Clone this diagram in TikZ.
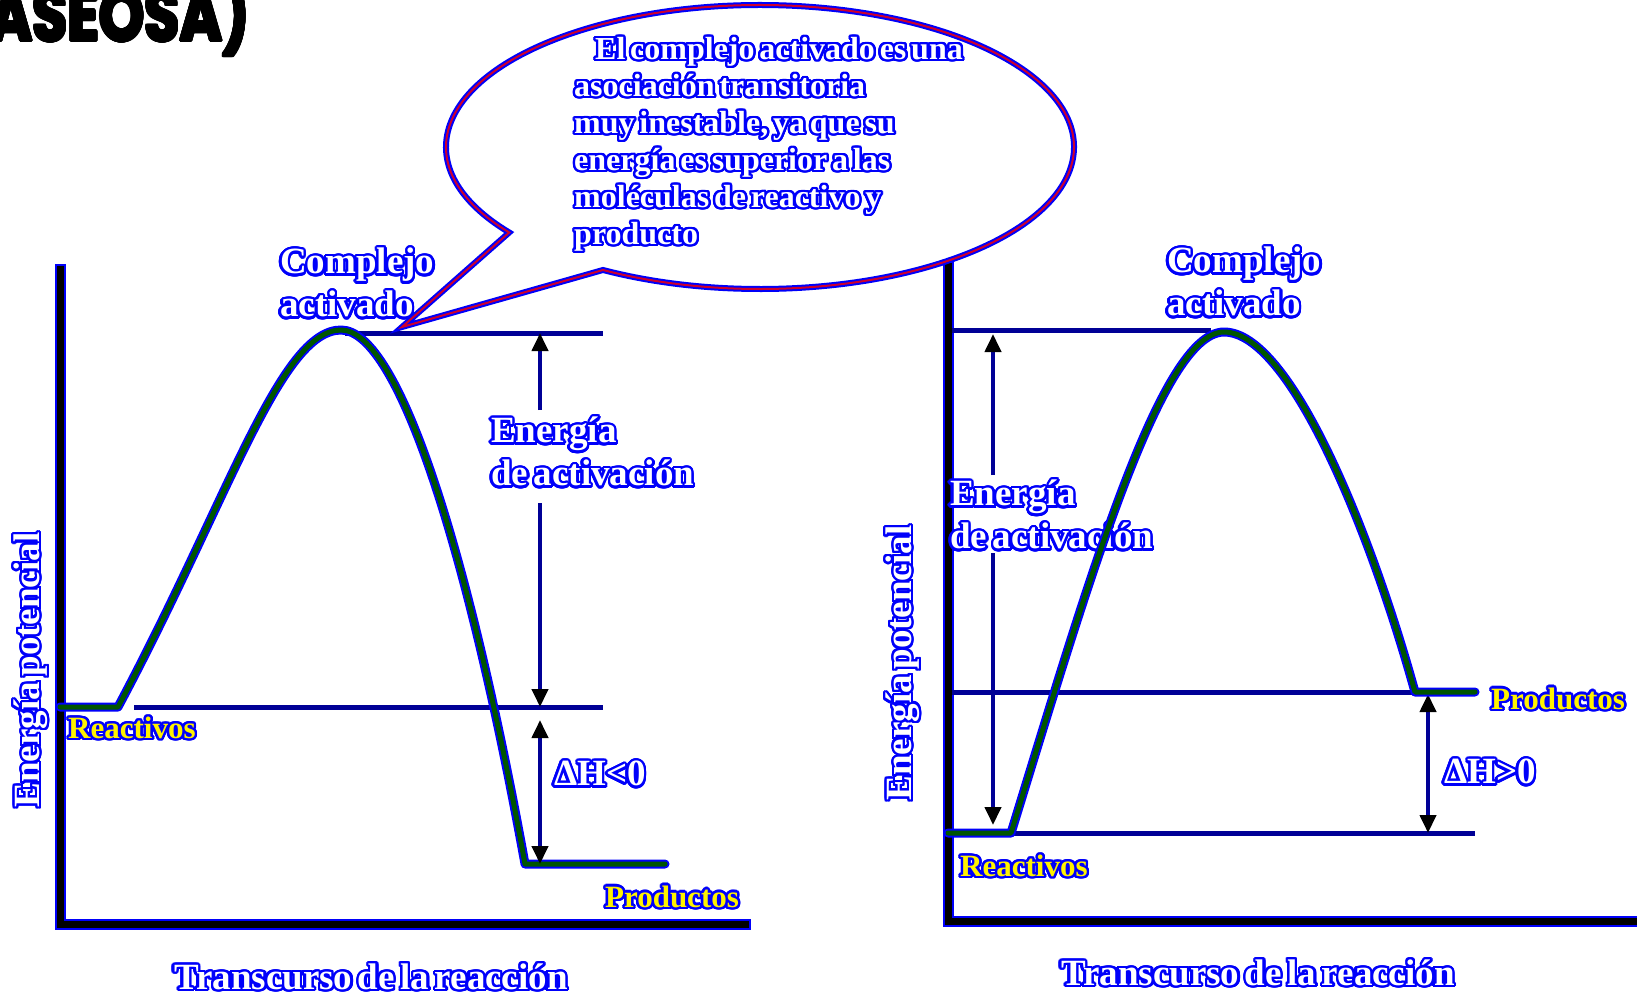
\documentclass[tikz,border=0pt]{standalone}
\usepackage{fontspec}
\setmainfont{Liberation Serif}[WordSpace=0.6]
\newfontfamily\titlefont{Poppins}
\usepackage[copies]{contour}
\contourlength{2.4pt}
\contournumber{24}
\usetikzlibrary{arrows.meta}
\definecolor{edgeblue}{RGB}{0,0,250}
\definecolor{lineblue}{RGB}{0,0,150}
\definecolor{curvegreen}{RGB}{0,85,0}
\definecolor{bubblered}{RGB}{205,0,45}
\newcommand{\ol}[1]{\contour{edgeblue}{#1}}

\begin{document}
\begin{tikzpicture}[x=1pt, y=-1pt,
	axisedge/.style={ line width=11pt, edgeblue, line cap=rect },
	axis/.style={ line width=7pt, black, line cap=rect },
	level/.style={ line width=5pt, lineblue },
	curveedge/.style={ line width=9pt, edgeblue, line cap=round, line join=round },
	curve/.style={ line width=5pt, curvegreen, line cap=round, line join=round },
	tipup/.style={ line width=4pt, lineblue, -{Triangle[length=18pt, width=16pt, color=black]} },
	tipboth/.style={ line width=4pt, lineblue, {Triangle[length=18pt, width=16pt, color=black]}-{Triangle[length=18pt, width=16pt, color=black]} },
	lbl/.style={ text=white, inner sep=0pt, font=\fontsize{37}{43}\selectfont\bfseries },
	ylbl/.style={ text=yellow, inner sep=0pt, font=\fontsize{31}{36}\selectfont\bfseries }
]
\useasboundingbox (0,0) rectangle (1637,994);

\node[anchor=base east, inner sep=0pt, font=\titlefont\bfseries\fontsize{72}{72}\selectfont] (title) at (250,41) {\scalebox{0.8}[1]{\contourlength{1.5pt}\contour{black}{ASEOSA)}}};

% left graph
\coordinate (lTop) at (60,269);
\coordinate (lO) at (60,924);
\coordinate (lEnd) at (745,924);
\draw[axisedge] (lTop) -- (lO) -- (lEnd);
\draw[axis] (lTop) -- (lO) -- (lEnd);
\draw[level] (345,333) -- (603,333);
\draw[level] (134,707) -- (603,707);
\draw[curveedge] (60,707) -- (118,707) .. controls (228,501) and (280,330) .. (341,330) .. controls (400,330) and (470,560) .. (525,864) -- (665,864);
\draw[curve] (60,707) -- (118,707) .. controls (228,501) and (280,330) .. (341,330) .. controls (400,330) and (470,560) .. (525,864) -- (665,864);

\coordinate (lEaTop) at (540,333);
\coordinate (lEaA) at (540,410);
\coordinate (lEaB) at (540,503);
\coordinate (lEaBot) at (540,707);
\coordinate (lHTop) at (540,720);
\coordinate (lHBot) at (540,864);
\draw[tipup] (lEaA) -- (lEaTop);
\draw[tipup] (lEaB) -- (lEaBot);
\draw[tipboth] (lHTop) -- (lHBot);

\node[lbl, align=left, anchor=west] (lComplejo) at (280,284) {\ol{Complejo}\\\ol{activado}};
\node[lbl, align=left, anchor=west] (lEa) at (491,453) {\ol{Energía}\\\ol{de activación}};
\node[lbl] (lDH) at (600,775) {\ol{ΔH<0}};
\node[ylbl, anchor=west] (lReact) at (68,729) {\ol{Reactivos}};
\node[ylbl] (lProd) at (672,898) {\ol{Productos}};
\node[lbl, rotate=90] (lYaxis) at (32,670) {\ol{Energía potencial}};
\node[lbl] (lXaxis) at (371,978) {\ol{Transcurso de la reacción}};

% right graph
\coordinate (rTop) at (948,266);
\coordinate (rO) at (948,921);
\coordinate (rEnd) at (1640,921);
\draw[axisedge] (rTop) -- (rO) -- (rEnd);
\draw[axis] (rTop) -- (rO) -- (rEnd);
\draw[level] (952,330) -- (1211,330);
\draw[level] (952,692) -- (1415,692);
\draw[level] (1011,833) -- (1475,833);

\coordinate (rEaTop) at (993,334);
\coordinate (rEaA) at (993,475);
\coordinate (rEaB) at (993,553);
\coordinate (rEaBot) at (993,825);
\coordinate (rHTop) at (1428,694);
\coordinate (rHBot) at (1428,833);
\draw[tipup] (rEaA) -- (rEaTop);
\draw[tipup] (rEaB) -- (rEaBot);
\draw[tipboth] (rHTop) -- (rHBot);
\node[lbl, align=left, anchor=west] (rEa) at (950,516) {\ol{Energía}\\\ol{de activación}};

\draw[curveedge] (948,833) -- (1011,833) .. controls (1086,590) and (1160,332) .. (1224,332) .. controls (1290,332) and (1370,530) .. (1415,692) -- (1475,692);
\draw[curve] (948,833) -- (1011,833) .. controls (1086,590) and (1160,332) .. (1224,332) .. controls (1290,332) and (1370,530) .. (1415,692) -- (1475,692);

\node[lbl, align=left, anchor=west] (rComplejo) at (1167,283) {\ol{Complejo}\\\ol{activado}};
\node[lbl] (rDH) at (1490,773) {\ol{ΔH>0}};
\node[ylbl, anchor=west] (rProd) at (1491,700) {\ol{Productos}};
\node[ylbl, anchor=west] (rReact) at (960,867) {\ol{Reactivos}};
\node[lbl, rotate=90] (rYaxis) at (904,663) {\ol{Energía potencial}};
\node[lbl] (rXaxis) at (1258,974) {\ol{Transcurso de la reacción}};

% bubble
\coordinate (bc) at (760,147);
\coordinate (tip) at (402,327);
\filldraw[fill=white, draw=edgeblue, line width=6pt] (tip) -- ([shift={(143:314 and 142)}]bc) arc[start angle=143, end angle=480, x radius=314, y radius=142] -- cycle;
\draw[bubblered, line width=2pt] (tip) -- ([shift={(143:314 and 142)}]bc) arc[start angle=143, end angle=480, x radius=314, y radius=142] -- cycle;
\node[text=white, inner sep=0pt, anchor=north west, align=left, font=\fontsize{32}{37}\selectfont\bfseries] (note) at (574,37) {\hspace*{21pt}\ol{El complejo activado es una}\\\ol{asociación transitoria}\\\ol{muy inestable, ya que su}\\\ol{energía es superior a las}\\\ol{moléculas de reactivo y}\\\ol{producto}};

\end{tikzpicture}
\end{document}
